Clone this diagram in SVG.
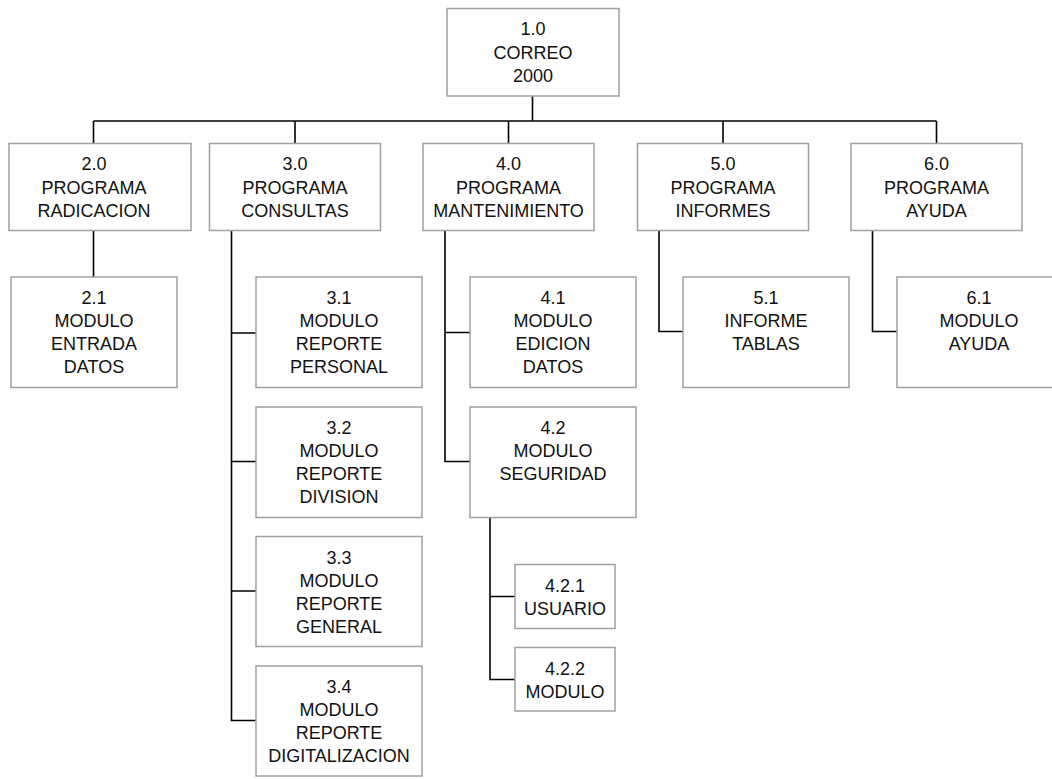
<svg xmlns="http://www.w3.org/2000/svg" width="1052" height="779" viewBox="0 0 1052 779">
  <style>
    .box { fill: #ffffff; stroke: #a0a0a0; stroke-width: 1.5; }
    .lbl { font-family: "Liberation Sans", Arial, sans-serif; font-size: 18px; fill: #111111; text-anchor: middle; }
    .wire { fill: none; stroke: #000000; stroke-width: 1.6; }
  </style>
  <rect width="1052" height="779" fill="#ffffff"/>

  <!-- connectors -->
  <g id="connectors" class="wire">
    <path d="M532.5 96 V121"/>
    <path d="M93.5 121 H936.5"/>
    <path d="M93.5 121 V143.5 M295 121 V143.5 M508.5 121 V143.5 M723 121 V143.5 M936.5 121 V143.5"/>
    <path d="M93.5 230.5 V277"/>
    <path d="M231.5 230.5 V720.5 H256 M231.5 333 H256 M231.5 461.5 H256 M231.5 591 H256"/>
    <path d="M445 230.5 V461.5 H470 M445 332.5 H470"/>
    <path d="M490 517.5 V679.5 H515 M490 596.5 H515"/>
    <path d="M659 230.5 V331.5 H683"/>
    <path d="M872.5 230.5 V331.5 H897"/>
  </g>

  <!-- root -->
  <g id="n1_0">
    <rect class="box" x="447" y="8.5" width="172" height="87.5"/>
    <text class="lbl" x="533" y="35">1.0</text>
    <text class="lbl" x="533" y="58.5">CORREO</text>
    <text class="lbl" x="533" y="81.5">2000</text>
  </g>

  <!-- programs -->
  <g id="n2_0">
    <rect class="box" x="9" y="143.5" width="182" height="87"/>
    <text class="lbl" x="94" y="170">2.0</text>
    <text class="lbl" x="94" y="193.5">PROGRAMA</text>
    <text class="lbl" x="94" y="216.5">RADICACION</text>
  </g>
  <g id="n3_0">
    <rect class="box" x="209.5" y="143.5" width="171" height="87"/>
    <text class="lbl" x="295" y="170">3.0</text>
    <text class="lbl" x="295" y="193.5">PROGRAMA</text>
    <text class="lbl" x="295" y="216.5">CONSULTAS</text>
  </g>
  <g id="n4_0">
    <rect class="box" x="423" y="143.5" width="171" height="87"/>
    <text class="lbl" x="508.5" y="170">4.0</text>
    <text class="lbl" x="508.5" y="193.5">PROGRAMA</text>
    <text class="lbl" x="508.5" y="216.5">MANTENIMIENTO</text>
  </g>
  <g id="n5_0">
    <rect class="box" x="637.5" y="143.5" width="171" height="87"/>
    <text class="lbl" x="723" y="170">5.0</text>
    <text class="lbl" x="723" y="193.5">PROGRAMA</text>
    <text class="lbl" x="723" y="216.5">INFORMES</text>
  </g>
  <g id="n6_0">
    <rect class="box" x="851" y="143.5" width="171" height="87"/>
    <text class="lbl" x="936.5" y="170">6.0</text>
    <text class="lbl" x="936.5" y="193.5">PROGRAMA</text>
    <text class="lbl" x="936.5" y="216.5">AYUDA</text>
  </g>

  <!-- modules -->
  <g id="n2_1">
    <rect class="box" x="11" y="277" width="166" height="110.5"/>
    <text class="lbl" x="94" y="304">2.1</text>
    <text class="lbl" x="94" y="327">MODULO</text>
    <text class="lbl" x="94" y="350">ENTRADA</text>
    <text class="lbl" x="94" y="373">DATOS</text>
  </g>
  <g id="n3_1">
    <rect class="box" x="256" y="277" width="166" height="110.5"/>
    <text class="lbl" x="339" y="304">3.1</text>
    <text class="lbl" x="339" y="327">MODULO</text>
    <text class="lbl" x="339" y="350">REPORTE</text>
    <text class="lbl" x="339" y="373">PERSONAL</text>
  </g>
  <g id="n3_2">
    <rect class="box" x="256" y="407" width="166" height="110.5"/>
    <text class="lbl" x="339" y="434">3.2</text>
    <text class="lbl" x="339" y="457">MODULO</text>
    <text class="lbl" x="339" y="480">REPORTE</text>
    <text class="lbl" x="339" y="503">DIVISION</text>
  </g>
  <g id="n3_3">
    <rect class="box" x="256" y="536.5" width="166" height="110"/>
    <text class="lbl" x="339" y="563.5">3.3</text>
    <text class="lbl" x="339" y="586.5">MODULO</text>
    <text class="lbl" x="339" y="609.5">REPORTE</text>
    <text class="lbl" x="339" y="632.5">GENERAL</text>
  </g>
  <g id="n3_4">
    <rect class="box" x="256" y="666" width="166" height="110"/>
    <text class="lbl" x="339" y="693">3.4</text>
    <text class="lbl" x="339" y="716">MODULO</text>
    <text class="lbl" x="339" y="739">REPORTE</text>
    <text class="lbl" x="339" y="762">DIGITALIZACION</text>
  </g>
  <g id="n4_1">
    <rect class="box" x="470" y="277" width="166" height="110.5"/>
    <text class="lbl" x="553" y="304">4.1</text>
    <text class="lbl" x="553" y="327">MODULO</text>
    <text class="lbl" x="553" y="350">EDICION</text>
    <text class="lbl" x="553" y="373">DATOS</text>
  </g>
  <g id="n4_2">
    <rect class="box" x="470" y="407" width="166" height="110.5"/>
    <text class="lbl" x="553" y="434">4.2</text>
    <text class="lbl" x="553" y="457">MODULO</text>
    <text class="lbl" x="553" y="480">SEGURIDAD</text>
  </g>
  <g id="n4_2_1">
    <rect class="box" x="515" y="564.5" width="100" height="64"/>
    <text class="lbl" x="565" y="591.5">4.2.1</text>
    <text class="lbl" x="565" y="615">USUARIO</text>
  </g>
  <g id="n4_2_2">
    <rect class="box" x="515" y="647.5" width="100" height="63.5"/>
    <text class="lbl" x="565" y="674.5">4.2.2</text>
    <text class="lbl" x="565" y="698">MODULO</text>
  </g>
  <g id="n5_1">
    <rect class="box" x="683" y="277" width="166" height="110.5"/>
    <text class="lbl" x="766" y="304">5.1</text>
    <text class="lbl" x="766" y="327">INFORME</text>
    <text class="lbl" x="766" y="350">TABLAS</text>
  </g>
  <g id="n6_1">
    <rect class="box" x="897" y="277" width="165" height="110.5"/>
    <text class="lbl" x="979" y="304">6.1</text>
    <text class="lbl" x="979" y="327">MODULO</text>
    <text class="lbl" x="979" y="350">AYUDA</text>
  </g>
</svg>
